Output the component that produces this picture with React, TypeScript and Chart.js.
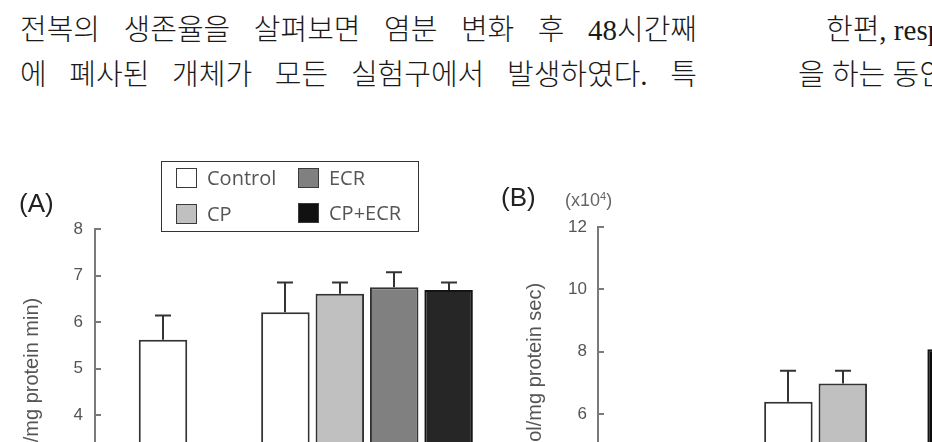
import React, { useEffect, useRef } from "react";
import { Chart, registerables } from "chart.js";

Chart.register(...registerables);

// ---------- data ----------
const categories = ["", "Initial", "", "", "48 h", "", ""];
const seriesNames = ["Control", "CP", "ECR", "CP+ECR"];

// Panel A (values, upper SD)
const aInitial = [null, 5.62, null, null, null, null, null];
const aInitialErr = [null, 0.52, null, null, null, null, null];
const aControl = [null, null, null, null, 6.21, null, null];
const aControlErr = [null, null, null, null, 0.64, null, null];
const aCP = [null, null, null, null, 6.61, null, null];
const aCPErr = [null, null, null, null, 0.24, null, null];
const aECR = [null, null, null, null, 6.75, null, null];
const aECRErr = [null, null, null, null, 0.32, null, null];
const aCPECR = [null, null, null, null, 6.69, null, null];
const aCPECRErr = [null, null, null, null, 0.16, null, null];
const aTitle = "Activity (U/mg protein min)";

// Panel B (x10^4)
const bInitial = [null, 4.3, null, null, null, null, null];
const bInitialErr = [null, 0.5, null, null, null, null, null];
const bControl = [null, null, null, null, 6.39, null, null];
const bControlErr = [null, null, null, null, 1.0, null, null];
const bCP = [null, null, null, null, 6.98, null, null];
const bCPErr = [null, null, null, null, 0.41, null, null];
const bECR = [null, null, null, null, 4.5, null, null];
const bECRErr = [null, null, null, null, 0.4, null, null];
const bCPECR = [null, null, null, null, 8.08, null, null];
const bCPECRErr = [null, null, null, null, 0.45, null, null];
const bTitle = "Activity (nmol/mg protein sec)";

const textLines = [
  "전복의 생존율을 살펴보면 염분 변화 후 48시간째",
  "에 폐사된 개체가 모든 실험구에서 발생하였다. 특",
];
const rightLines = ["한편, respiratory burst", "을 하는 동안 발생하는"];

// ---------- styles ----------
const fillsA = ["#ffffff", "#c0c0c0", "#808080", "#262626"];
const fillsB = ["#ffffff", "#c0c0c0", "#808080", "#0a0a0a"];
const legendFills = ["#ffffff", "#c0c0c0", "#808080", "#111111"];
const barBorder = "#333333";
const axisColor = "#7a7a7a";
const sansFont = "'Liberation Sans', Arial, sans-serif";

const errorBarPlugin = {
  id: "errorBars",
  afterDatasetsDraw(chart: any) {
    const ctx = chart.ctx;
    const yScale = chart.scales.y;
    chart.data.datasets.forEach((ds: any, di: number) => {
      const errs = ds.errors;
      if (!errs) return;
      const meta = chart.getDatasetMeta(di);
      meta.data.forEach((el: any, i: number) => {
        const v = ds.data[i];
        const e = errs[i];
        if (v == null || e == null) return;
        const top = yScale.getPixelForValue(v + e);
        const x = Math.round(el.x);
        ctx.save();
        ctx.strokeStyle = "#333333";
        ctx.lineWidth = 2;
        ctx.beginPath();
        ctx.moveTo(x, el.y);
        ctx.lineTo(x, top);
        ctx.moveTo(x - 8, top);
        ctx.lineTo(x + 8, top);
        ctx.stroke();
        ctx.restore();
      });
    });
  },
};

type Panel = {
  left: number;
  width: number;
  height: number;
  padding: { top: number; bottom: number; left: number; right: number };
  axisWidth: number;
  tickPadding: number;
  titlePad: number;
  yMax: number;
  yStep: number;
  title: string;
  initial: (number | null)[];
  initialErr: (number | null)[];
  series: (number | null)[][];
  errors: (number | null)[][];
  fills: string[];
};

const panelA: Panel = {
  left: 0,
  width: 505,
  height: 640,
  padding: { top: 229, bottom: 39, left: 0, right: 2 },
  axisWidth: 95,
  tickPadding: 18,
  titlePad: 20,
  yMax: 8,
  yStep: 1,
  title: aTitle,
  initial: aInitial,
  initialErr: aInitialErr,
  series: [aControl, aCP, aECR, aCPECR],
  errors: [aControlErr, aCPErr, aECRErr, aCPECRErr],
  fills: fillsA,
};

const panelB: Panel = {
  left: 505,
  width: 520,
  height: 640,
  padding: { top: 227, bottom: 39, left: 0, right: 19 },
  axisWidth: 93,
  tickPadding: 17,
  titlePad: 18,
  yMax: 12,
  yStep: 2,
  title: bTitle,
  initial: bInitial,
  initialErr: bInitialErr,
  series: [bControl, bCP, bECR, bCPECR],
  errors: [bControlErr, bCPErr, bECRErr, bCPECRErr],
  fills: fillsB,
};

function makeConfig(p: Panel): any {
  const datasets: any[] = [
    {
      label: "Control (initial)",
      data: p.initial,
      errors: p.initialErr,
      grouped: false,
      categoryPercentage: 1,
      barPercentage: 0.713,
      backgroundColor: p.fills[0],
      borderColor: barBorder,
      borderWidth: 2,
    },
    ...p.series.map((d, i) => ({
      label: seriesNames[i],
      data: d,
      errors: p.errors[i],
      categoryPercentage: 3.2,
      barPercentage: 0.8915,
      backgroundColor: p.fills[i],
      borderColor: i === 3 ? "#141414" : barBorder,
      borderWidth: 2,
    })),
  ];
  return {
    type: "bar",
    data: { labels: categories, datasets },
    plugins: [errorBarPlugin],
    options: {
      responsive: false,
      animation: false,
      devicePixelRatio: 1,
      layout: { padding: p.padding },
      plugins: { legend: { display: false }, tooltip: { enabled: false } },
      scales: {
        x: {
          type: "category",
          offset: false,
          display: false,
          grid: { display: false },
        },
        y: {
          min: 0,
          max: p.yMax,
          ticks: {
            stepSize: p.yStep,
            color: "#555555",
            font: { family: sansFont, size: 17 },
            padding: p.tickPadding,
          },
          grid: {
            drawOnChartArea: false,
            drawTicks: true,
            tickLength: -6,
            color: axisColor,
            lineWidth: 2,
          },
          border: { display: true, color: axisColor, width: 2 },
          title: {
            display: true,
            text: p.title,
            color: "#555555",
            font: { family: sansFont, size: 20 },
            padding: { top: p.titlePad, bottom: 0 },
          },
          afterFit: (s: any) => {
            s.width = p.axisWidth;
          },
        },
      },
    },
  };
}

function ChartCanvas({ panel }: { panel: Panel }) {
  const ref = useRef<HTMLCanvasElement | null>(null);
  useEffect(() => {
    if (!ref.current) return;
    const chart = new Chart(ref.current, makeConfig(panel));
    return () => chart.destroy();
  }, [panel]);
  return (
    <canvas
      ref={ref}
      width={panel.width}
      height={panel.height}
      style={{
        position: "absolute",
        left: panel.left,
        top: 0,
        width: panel.width,
        height: panel.height,
        display: "block",
      }}
    />
  );
}

const bodyText: React.CSSProperties = {
  position: "absolute",
  fontFamily: "'Liberation Serif', 'Noto Sans CJK KR', serif",
  fontSize: 29,
  fontWeight: 300,
  lineHeight: "29px",
  color: "#1a1a1a",
  textAlign: "justify",
  textAlignLast: "justify" as any,
  whiteSpace: "normal",
};

function LegendItem({ x, y, fill, label }: { x: number; y: number; fill: string; label: string }) {
  return (
    <div
      style={{
        position: "absolute",
        left: x,
        top: y,
        height: 20,
        display: "flex",
        alignItems: "center",
      }}
    >
      <div
        style={{
          width: 21,
          height: 20,
          boxSizing: "border-box",
          border: "1.5px solid #3a3a3a",
          background: fill,
        }}
      />
      <span
        style={{
          marginLeft: 10,
          fontFamily: "'Open Sans', 'Noto Sans', sans-serif",
          fontSize: 20,
          lineHeight: "20px",
          color: "#555",
          whiteSpace: "nowrap",
        }}
      >
        {label}
      </span>
    </div>
  );
}

export default function App() {
  return (
    <div
      style={{
        position: "fixed",
        left: 0,
        top: 0,
        width: 932,
        height: 442,
        overflow: "hidden",
        background: "#fff",
      }}
    >
      <div style={{ ...bodyText, left: 20, top: 16, width: 677 }}>{textLines[0]}</div>
      <div style={{ ...bodyText, left: 20, top: 61, width: 677 }}>{textLines[1]}</div>
      <div style={{ ...bodyText, left: 826, top: 16, textAlign: "left", textAlignLast: "left" as any, whiteSpace: "nowrap" }}>
        {rightLines[0]}
      </div>
      <div style={{ ...bodyText, left: 798, top: 61, textAlign: "left", textAlignLast: "left" as any, whiteSpace: "nowrap" }}>
        {rightLines[1]}
      </div>

      <ChartCanvas panel={panelA} />
      <ChartCanvas panel={panelB} />

      <div
        style={{
          position: "absolute",
          left: 19,
          top: 190,
          fontFamily: sansFont,
          fontSize: 26,
          lineHeight: "26px",
          color: "#222",
        }}
      >
        (A)
      </div>
      <div
        style={{
          position: "absolute",
          left: 501,
          top: 184,
          fontFamily: sansFont,
          fontSize: 26,
          lineHeight: "26px",
          color: "#222",
        }}
      >
        (B)
      </div>
      <div
        style={{
          position: "absolute",
          left: 565,
          top: 191,
          fontFamily: sansFont,
          fontSize: 18,
          lineHeight: "18px",
          color: "#666",
          whiteSpace: "nowrap",
        }}
      >
        (x10<sup style={{ fontSize: 11, verticalAlign: "6px", lineHeight: 0 }}>4</sup>)
      </div>

      <div
        style={{
          position: "absolute",
          left: 161,
          top: 161,
          width: 258,
          height: 71,
          boxSizing: "border-box",
          border: "1.5px solid #333",
          background: "#fff",
        }}
      />
      <LegendItem x={176} y={168} fill={legendFills[0]} label={seriesNames[0]} />
      <LegendItem x={298} y={168} fill={legendFills[2]} label={seriesNames[2]} />
      <LegendItem x={176} y={204} fill={legendFills[1]} label={seriesNames[1]} />
      <LegendItem x={298} y={203} fill={legendFills[3]} label={seriesNames[3]} />
    </div>
  );
}
